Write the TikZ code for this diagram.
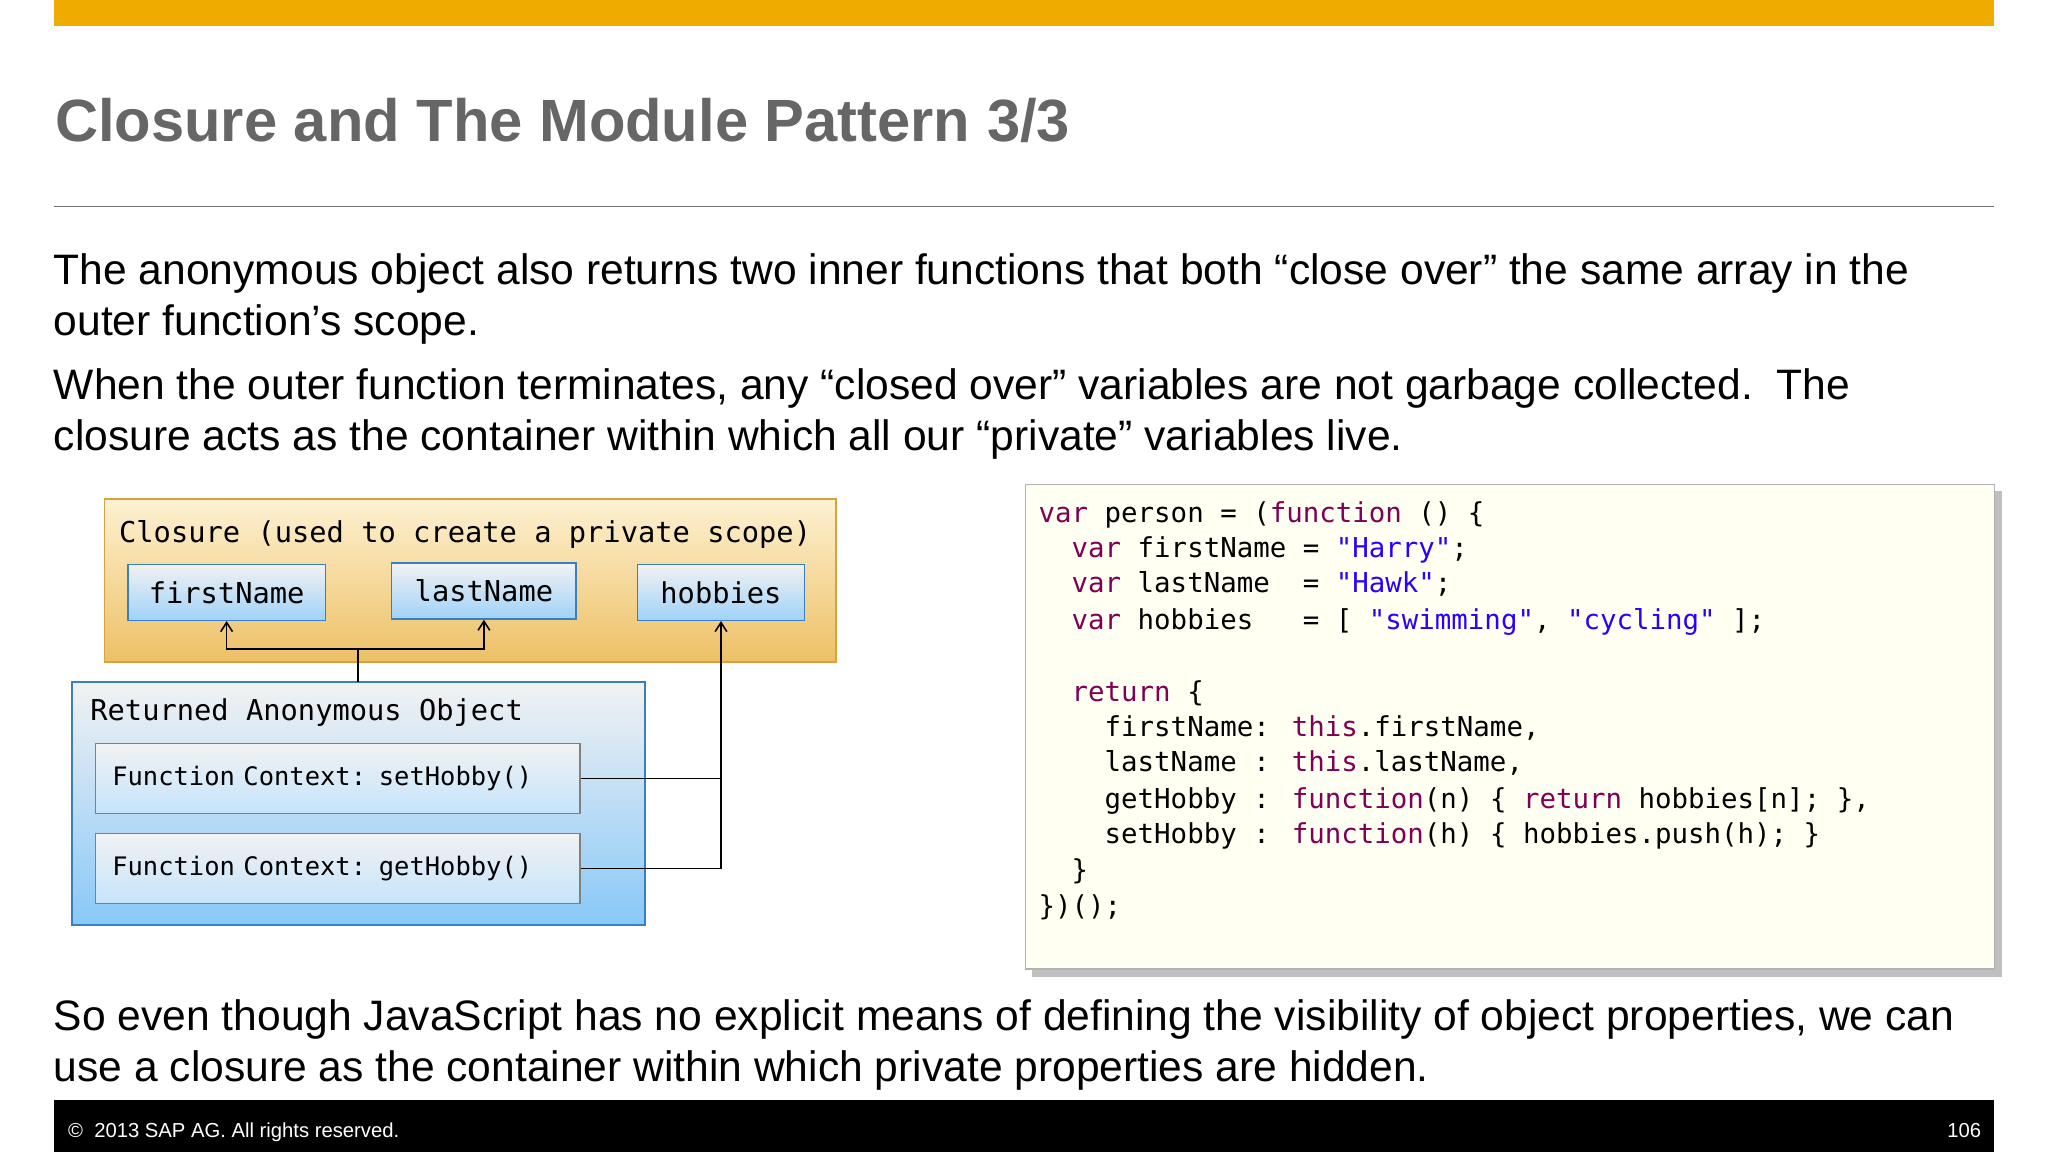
\documentclass[tikz,border=0pt]{standalone}
\usepackage{fontspec}
\setmainfont{Liberation Sans}
\newfontfamily\codefont{DejaVu Sans Mono}
\usetikzlibrary{shadows,arrows.meta}
\definecolor{sapgold}{HTML}{F0AB00}
\definecolor{kwc}{HTML}{7F0055}
\definecolor{strc}{HTML}{2A00FF}
\definecolor{clotop}{HTML}{FDF1D2}
\definecolor{clobot}{HTML}{EDC066}
\definecolor{cloedge}{HTML}{D9A23C}
\definecolor{rettop}{HTML}{F2F2F2}
\definecolor{retbot}{HTML}{88C8F8}
\definecolor{retedge}{HTML}{3A80C0}
\definecolor{vbot}{HTML}{9FD2F8}
\definecolor{fbot}{HTML}{C4E4FC}
\newcommand{\jskw}[1]{\textcolor{kwc}{#1}}
\newcommand{\jsstr}[1]{\textcolor{strc}{#1}}
\tikzset{
  body/.style={anchor=base west,inner sep=0pt,font=\fontsize{32.6}{38}\selectfont},
  code/.style={anchor=base west,inner sep=0pt,font=\codefont\fontsize{21}{25}\selectfont},
  varbox/.style={draw=retedge,line width=1pt,top color=rettop,bottom color=vbot,font=\codefont\fontsize{22}{26}\selectfont,inner sep=0pt},
  fbox/.style={draw=gray,line width=1pt,top color=rettop,bottom color=fbot,font=\codefont\fontsize{19.5}{24}\selectfont,inner sep=0pt},
  conn/.style={line width=1.2pt,black},
  arr/.style={conn,-{Straight Barb[length=7pt,width=9pt]}},
}
\begin{document}
\begin{tikzpicture}[x=1pt,y=-1pt]
\useasboundingbox (0,0) rectangle (1568,882);
\fill[white] (0,0) rectangle (1568,882);
% top bar
\fill[sapgold] (41,0) rectangle (1527,20);
\node[anchor=base west,inner sep=0pt,text=black!60,font=\fontsize{45.7}{50}\selectfont\bfseries] (title) at (42,108) {Closure and The Module Pattern 3/3};
\draw[black!55,line width=1pt] (41,158) -- (1527,158);
% body text
\node[body] (p1a) at (41,218) {The anonymous object also returns two inner functions that both “close over” the same array in the};
\node[body] (p1b) at (41,257) {outer function’s scope.};
\node[body] (p2a) at (41,306) {When the outer function terminates, any “closed over” variables are not garbage collected.\ \ The};
\node[body] (p2b) at (41,345) {closure acts as the container within which all our “private” variables live.};
\node[body] (p3a) at (41,789) {So even though JavaScript has no explicit means of defining the visibility of object properties, we can};
\node[body] (p3b) at (41,828) {use a closure as the container within which private properties are hidden.};
% footer
\fill[black] (41,842) rectangle (1527,882);
\node[anchor=base west,inner sep=0pt,text=white,font=\fontsize{15.5}{18}\selectfont] (copy) at (52,871) {©\ \ 2013 SAP AG. All rights reserved.};
\node[anchor=base east,inner sep=0pt,text=white,font=\fontsize{15.5}{18}\selectfont] (pg) at (1517,871) {106};
% closure box
\draw[draw=cloedge,line width=1.2pt,top color=clotop,bottom color=clobot] (80,382) rectangle (640,507);
\node[anchor=base west,inner sep=0pt,font=\codefont\fontsize{22}{26}\selectfont] (cl) at (91,415) {Closure (used to create a private scope)};
\node[varbox,minimum width=151pt,minimum height=43pt] (fn) at (173.5,453.5) {firstName};
\node[varbox,minimum width=141pt,minimum height=43pt] (ln) at (370.5,452.5) {lastName};
\node[varbox,minimum width=128pt,minimum height=43pt] (hb) at (552,453.5) {hobbies};
% returned object
\draw[draw=retedge,line width=1.2pt,top color=rettop,bottom color=retbot] (55,522) rectangle (494,708);
\coordinate (rtop) at (274,522);
\node[anchor=base west,inner sep=0pt,font=\codefont\fontsize{22}{26}\selectfont] (ro) at (69,552) {Returned Anonymous Object};
\node[fbox,minimum width=371pt,minimum height=54pt,text width=345pt,align=left] (sh) at (258.5,596) {Function Context: setHobby()\\[14pt]};
\node[fbox,minimum width=371pt,minimum height=54pt,text width=345pt,align=left] (gh) at (258.5,665) {Function Context: getHobby()\\[14pt]};
% connectors
\coordinate (j) at (274,497);
\draw[conn] (rtop) -- (j);
\draw[arr] (j) -| (fn.south);
\draw[arr] (j) -| (ln.south);
\coordinate (hj) at (552,596);
\draw[conn] (sh.east) -- (hj);
\draw[arr] (gh.east) -| (hb.south);
% code box
\fill[black!25] (790,376) rectangle (1533,748);
\draw[fill={rgb,255:red,255;green,255;blue,242},draw=black!30,line width=1pt] (785,371) rectangle (1527,742);
\node[code] (c1) at (795,400) {\jskw{var} person = (\jskw{function} () \{};
\node[code] (c2) at (795,427) {\ \ \jskw{var} firstName = \jsstr{"Harry"};};
\node[code] (c3) at (795,454) {\ \ \jskw{var} lastName\ \ = \jsstr{"Hawk"};};
\node[code] (c4) at (795,482) {\ \ \jskw{var} hobbies\ \ \ = [ \jsstr{"swimming"}, \jsstr{"cycling"} ];};
\node[code] (c5) at (795,537) {\ \ \jskw{return} \{};
\node[code] (c6) at (795,564) {\ \ \ \ firstName: \jskw{this}.firstName,};
\node[code] (c7) at (795,591) {\ \ \ \ lastName : \jskw{this}.lastName,};
\node[code] (c8) at (795,619) {\ \ \ \ getHobby : \jskw{function}(n) \{ \jskw{return} hobbies[n]; \},};
\node[code] (c9) at (795,646) {\ \ \ \ setHobby : \jskw{function}(h) \{ hobbies.push(h); \}};
\node[code] (c10) at (795,673) {\ \ \}};
\node[code] (c11) at (795,701) {\})();};
\end{tikzpicture}
\end{document}
